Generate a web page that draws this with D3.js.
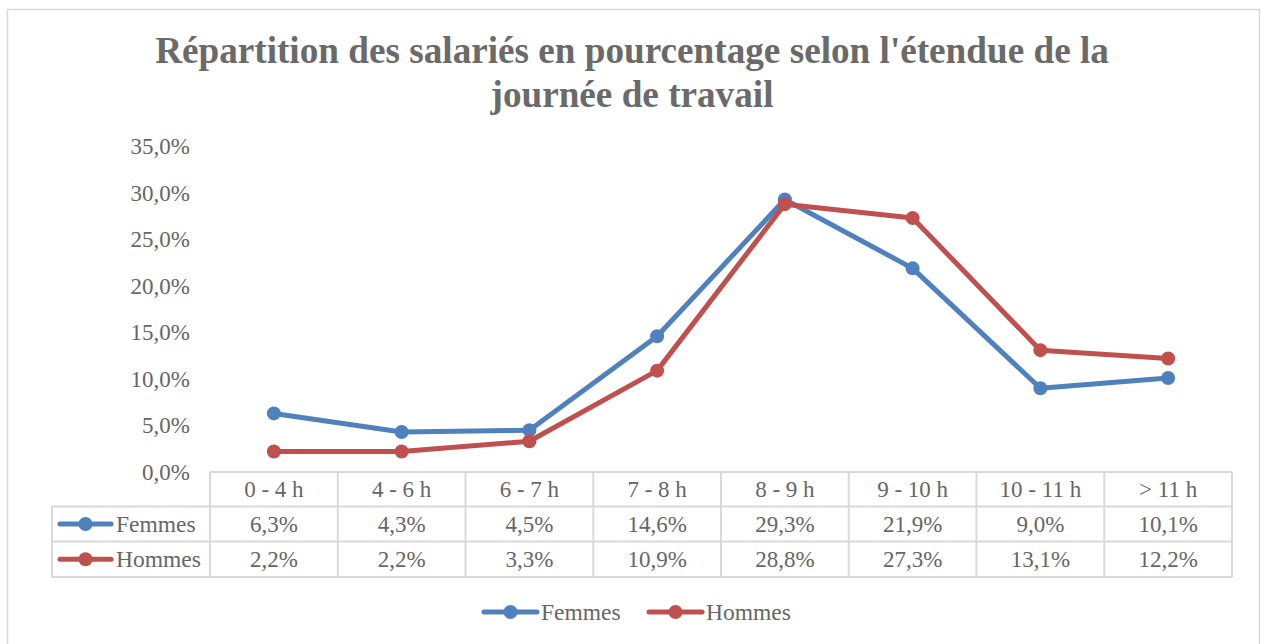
<!DOCTYPE html>
<html><head><meta charset="utf-8">
<script src="https://cdn.jsdelivr.net/npm/d3@7"></script>
<style>body{margin:0;background:#fff}svg{display:block}text{font-family:"Liberation Serif","Times New Roman",serif;fill:#666666}</style>
</head><body><svg id="c" width="1261" height="644"></svg>
<script>
const categories = ["0 - 4 h","4 - 6 h","6 - 7 h","7 - 8 h","8 - 9 h","9 - 10 h","10 - 11 h","> 11 h"];
const femmes = [6.3,4.3,4.5,14.6,29.3,21.9,9.0,10.1];
const hommes = [2.2,2.2,3.3,10.9,28.8,27.3,13.1,12.2];
const yTicks = [0,5,10,15,20,25,30,35];
const seriesNames = ["Femmes","Hommes"];
const colors = ["#4F81BD","#C0504D"];
const title = ["Répartition des salariés en pourcentage selon l'étendue de la","journée de travail"];

const svg = d3.select("#c");
const fmt = v => d3.format(".1f")(v).replace(".", ",") + "%";
svg.append("rect").attr("x",7.5).attr("y",9.5).attr("width",1252).attr("height",650).attr("fill","#fff").attr("stroke","#d9d9d9").attr("stroke-width",1.5);

svg.selectAll(".title").data(title).join("text").attr("x",632).attr("y",(d,i)=>63+i*44)
  .attr("text-anchor","middle").attr("font-size",37.2).attr("font-weight","bold").style("fill","#6a6a6a").text(d=>d);

const x = d3.scaleBand().domain(categories).range([210,1232]);
const y = d3.scaleLinear().domain([0,35]).range([472,146.5]);

const yAxis = svg.append("g").attr("transform","translate(210,0)")
  .call(d3.axisLeft(y).tickValues(yTicks).tickFormat(fmt).tickSize(0).tickPadding(20));
yAxis.select(".domain").remove();
yAxis.selectAll("text").attr("font-size",23).attr("font-family","Liberation Serif, serif");

const series = [femmes, hommes];
const line = d3.line().x((d,i)=>x(categories[i])+x.bandwidth()/2).y(d=>y(d));
series.forEach((s,k)=>{
  svg.append("path").datum(s).attr("d",line).attr("fill","none").attr("stroke",colors[k]).attr("stroke-width",5).attr("stroke-linejoin","round");
  svg.selectAll(".m"+k).data(s).join("circle").attr("cx",(d,i)=>x(categories[i])+x.bandwidth()/2).attr("cy",d=>y(d)).attr("r",7).attr("fill",colors[k]);
});

// data table
const rowY = [472,506.5,541.5,577];
const g = svg.append("g");
const grid = "#d9d9d9";
g.append("line").attr("x1",210).attr("x2",1232).attr("y1",rowY[0]).attr("y2",rowY[0]).attr("stroke",grid).attr("stroke-width",2);
[1,2,3].forEach(r=>g.append("line").attr("x1",52).attr("x2",1232).attr("y1",rowY[r]).attr("y2",rowY[r]).attr("stroke",grid).attr("stroke-width",2));
g.append("line").attr("x1",52).attr("x2",52).attr("y1",rowY[1]).attr("y2",rowY[3]).attr("stroke",grid).attr("stroke-width",2);
categories.forEach(c=>g.append("line").attr("x1",x(c)).attr("x2",x(c)).attr("y1",rowY[0]).attr("y2",rowY[3]).attr("stroke",grid).attr("stroke-width",2));
g.append("line").attr("x1",1232).attr("x2",1232).attr("y1",rowY[0]).attr("y2",rowY[3]).attr("stroke",grid).attr("stroke-width",2);

g.selectAll(".hdr").data(categories).join("text").attr("x",d=>x(d)+x.bandwidth()/2).attr("y",(rowY[0]+rowY[1])/2+8)
  .attr("text-anchor","middle").attr("font-size",23).text(d=>d);
series.forEach((s,k)=>{
  const cy = (rowY[k+1]+rowY[k+2])/2;
  g.selectAll(".v"+k).data(s).join("text").attr("x",(d,i)=>x(categories[i])+x.bandwidth()/2).attr("y",cy+8)
    .attr("text-anchor","middle").attr("font-size",23).text(d=>fmt(d));
  g.append("line").attr("x1",60).attr("x2",111).attr("y1",cy).attr("y2",cy).attr("stroke",colors[k]).attr("stroke-width",5).attr("stroke-linecap","round");
  g.append("circle").attr("cx",85.5).attr("cy",cy).attr("r",7).attr("fill",colors[k]);
  g.append("text").attr("x",116).attr("y",cy+8).attr("font-size",23.5).text(seriesNames[k]);
});

// legend
const lx = [484,649];
seriesNames.forEach((n,k)=>{
  const cy = 612;
  svg.append("line").attr("x1",lx[k]).attr("x2",lx[k]+53).attr("y1",cy).attr("y2",cy).attr("stroke",colors[k]).attr("stroke-width",5).attr("stroke-linecap","round");
  svg.append("circle").attr("cx",lx[k]+26.5).attr("cy",cy).attr("r",7).attr("fill",colors[k]);
  svg.append("text").attr("x",lx[k]+57).attr("y",cy+8).attr("font-size",23.5).text(n);
});
</script></body></html>
